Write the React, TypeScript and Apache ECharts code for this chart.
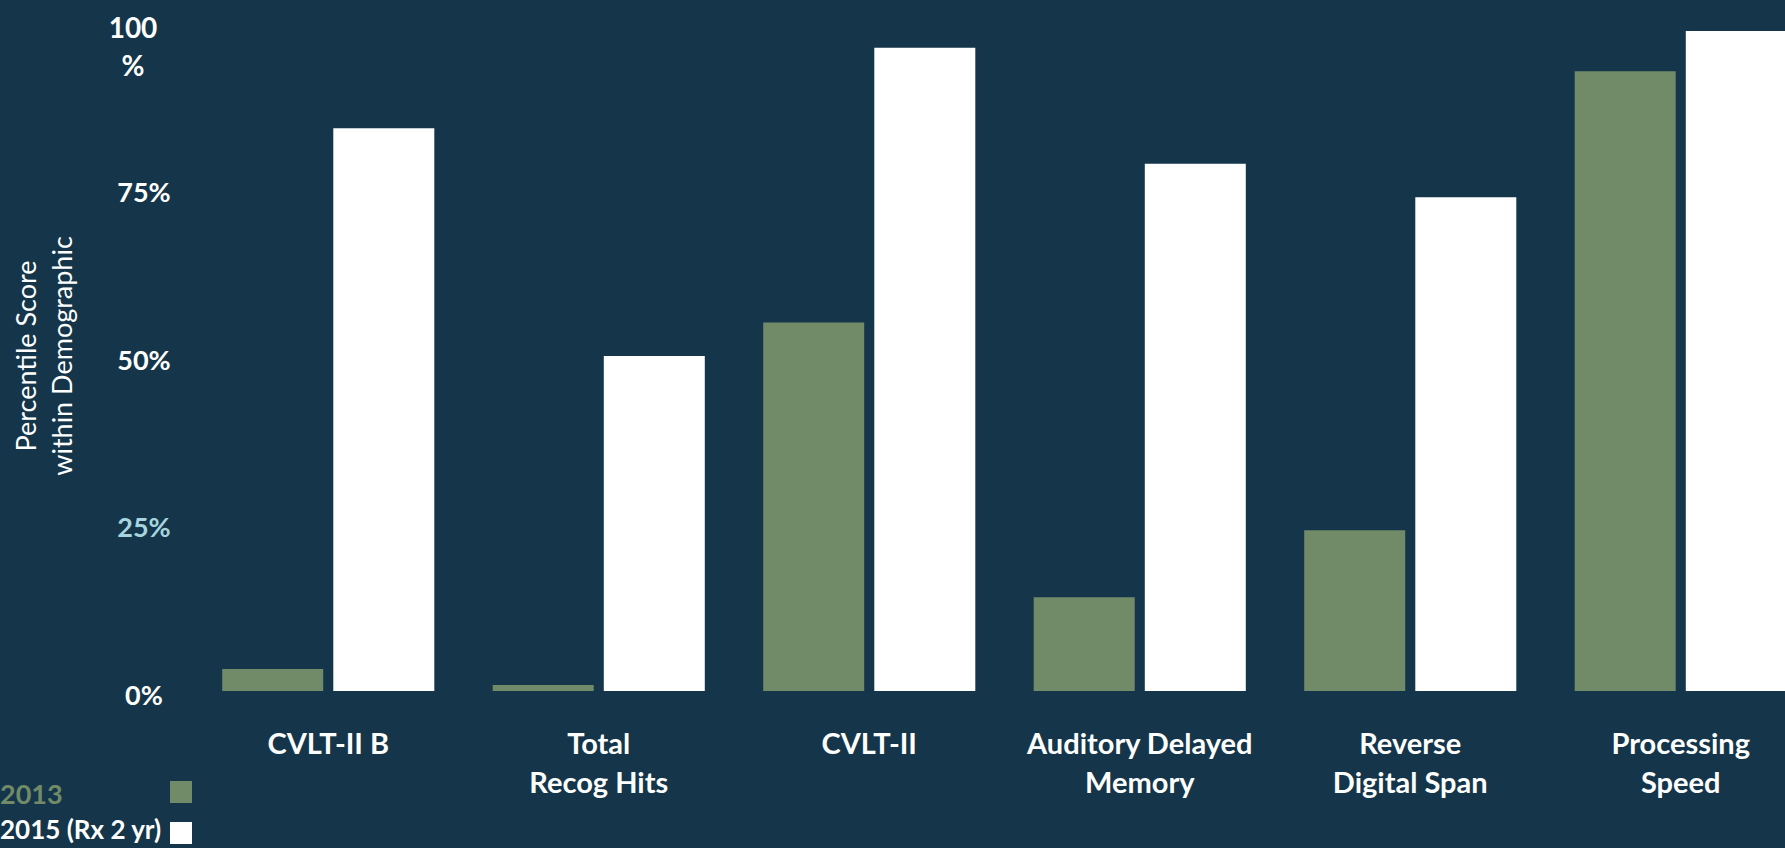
import React, { useEffect, useRef } from "react";
import * as echarts from "echarts";

const categories = [
  "CVLT-II B",
  "Total\nRecog Hits",
  "CVLT-II",
  "Auditory Delayed\nMemory",
  "Reverse\nDigital Span",
  "Processing\nSpeed",
];
const values2013 = [3.3, 0.9, 55, 14, 24, 92.5];
const values2015 = [84, 50, 96, 78.7, 73.7, 98.5];
const yTicks = [0, 25, 50, 75, 100];
const seriesNames = ["2013", "2015 (Rx 2 yr)"];

const BG = "#15364a";
const GREEN = "#718b69";
const WHITE = "#ffffff";
const LIGHTBLUE = "#a6d5de";
const FONT = "Lato";

export default function App() {
  const ref = useRef<HTMLDivElement>(null);

  useEffect(() => {
    if (!ref.current) return;
    const chart = echarts.init(ref.current, undefined, { renderer: "svg" });
    chart.setOption({
      animation: false,
      backgroundColor: BG,
      grid: {
        left: 193,
        right: -31,
        top: 21,
        bottom: 157,
        containLabel: false,
        outerBoundsMode: "none",
      },
      xAxis: {
        type: "category",
        data: categories,
        axisLine: { show: false },
        axisTick: { show: false },
        splitLine: { show: false },
        axisLabel: {
          interval: 0,
          margin: 32,
          color: WHITE,
          fontFamily: FONT,
          fontWeight: "bold",
          fontSize: 29,
          lineHeight: 39,
          align: "center",
        },
      },
      yAxis: {
        type: "value",
        min: 0,
        max: 100,
        interval: 25,
        axisLine: { show: false },
        axisTick: { show: false },
        splitLine: { show: false },
        name: "Percentile Score\nwithin Demographic",
        nameLocation: "middle",
        nameRotate: 90,
        nameGap: 114,
        nameTextStyle: {
          color: WHITE,
          fontFamily: FONT,
          fontSize: 27,
          lineHeight: 36,
          align: "center",
        },
        axisLabel: {
          margin: 49,
          align: "center",
          fontFamily: FONT,
          fontWeight: "bold",
          fontSize: 27,
          formatter: (v: number) => {
            if (v === 100) return "{sp| }\n{h|" + yTicks[4] + "}\n{h|%}";
            if (v === 25) return "{b|" + v + "%}";
            return "{w|" + v + "%}";
          },
          rich: {
            sp: { lineHeight: 50, fontSize: 10 },
            h: {
              color: WHITE,
              fontFamily: FONT,
              fontWeight: "bold",
              fontSize: 28,
              lineHeight: 38,
              padding: [0, 22, 0, 0],
            },
            w: {
              color: WHITE,
              fontFamily: FONT,
              fontWeight: "bold",
              fontSize: 27,
              padding: [6, 0, 0, 0],
            },
            b: {
              color: LIGHTBLUE,
              fontFamily: FONT,
              fontWeight: "bold",
              fontSize: 27,
              padding: [6, 0, 0, 0],
            },
          },
        },
      },
      series: [
        {
          name: seriesNames[0],
          type: "bar",
          data: values2013,
          barWidth: 101,
          barGap: "10%",
          itemStyle: { color: GREEN },
        },
        {
          name: seriesNames[1],
          type: "bar",
          data: values2015,
          barWidth: 101,
          barGap: "10%",
          itemStyle: { color: WHITE },
        },
      ],
      graphic: [
        {
          type: "text",
          left: 0,
          top: 780,
          style: {
            text: seriesNames[0],
            fill: GREEN,
            font: `bold 27px ${FONT}`,
          },
        },
        {
          type: "rect",
          shape: { x: 170, y: 781, width: 22, height: 22 },
          style: { fill: GREEN },
        },
        {
          type: "text",
          left: 0,
          top: 816,
          style: {
            text: seriesNames[1],
            fill: WHITE,
            font: `bold 26px ${FONT}`,
          },
        },
        {
          type: "rect",
          shape: { x: 170, y: 822, width: 22, height: 22 },
          style: { fill: WHITE },
        },
      ],
    });
    return () => chart.dispose();
  }, []);

  return (
    <div
      ref={ref}
      style={{ position: "fixed", left: 0, top: 0, width: 1785, height: 848 }}
    />
  );
}
